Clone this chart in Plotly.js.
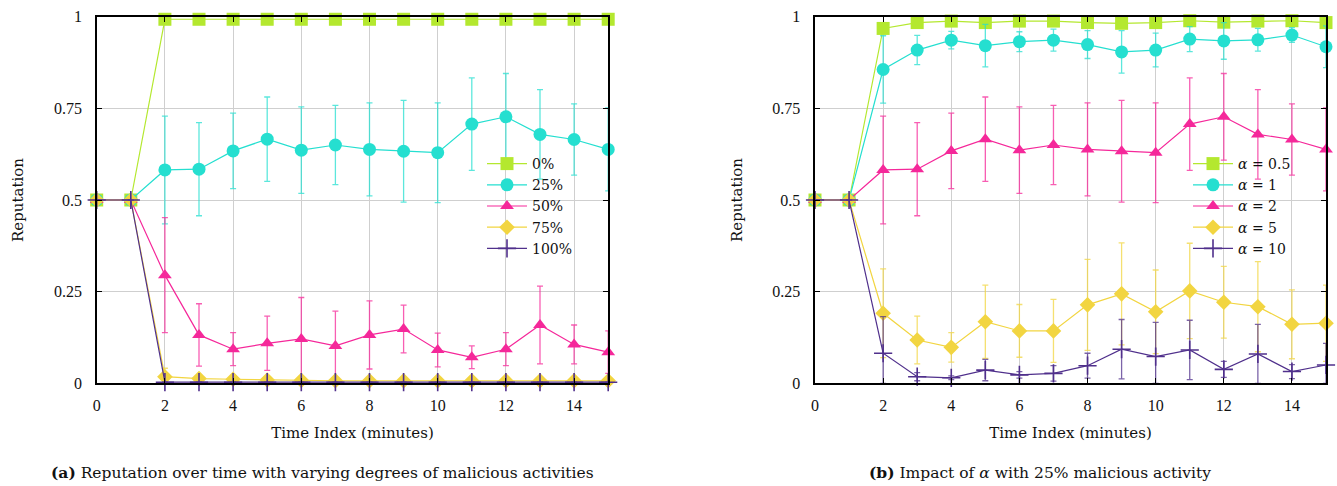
<!DOCTYPE html>
<html>
<head>
<meta charset="utf-8">
<script src="https://cdn.plot.ly/plotly-3.0.1.min.js"></script>
<style>html,body{margin:0;padding:0;background:#fff;}#chart{width:1337px;height:486px;}</style>
</head>
<body>
<div id="chart"></div>
<script>
// ---------- data ----------
const timeIndex = [0,1,2,3,4,5,6,7,8,9,10,11,12,13,14,15];
const xTickVals = [0,2,4,6,8,10,12,14];
const yTickVals = [0,0.25,0.5,0.75,1];
const yTickText = ['0','0.25','0.5','0.75','1'];

// (a) varying degrees of malicious activity
const namesA = ['0%','25%','50%','75%','100%'];
const rep0   = [0.5,0.5,0.993,0.993,0.993,0.993,0.993,0.993,0.993,0.993,0.993,0.993,0.993,0.993,0.993,0.993];
const err0   = [0,0,0,0,0,0,0,0,0,0,0,0,0,0,0,0];
const rep25  = [0.5,0.5,0.582,0.584,0.634,0.666,0.636,0.650,0.638,0.633,0.629,0.707,0.727,0.679,0.665,0.638];
const err25  = [0,0,0.147,0.127,0.103,0.115,0.118,0.108,0.127,0.139,0.136,0.126,0.118,0.122,0.097,0.113];
const rep50  = [0.5,0.5,0.295,0.132,0.093,0.109,0.121,0.102,0.132,0.148,0.091,0.071,0.093,0.159,0.106,0.085];
const err50  = [0,0,0.157,0.085,0.045,0.074,0.113,0.095,0.093,0.065,0.046,0.031,0.045,0.106,0.053,0.058];
const rep75  = [0.5,0.5,0.018,0.013,0.011,0.009,0.008,0.007,0.007,0.007,0.007,0.007,0.007,0.007,0.007,0.007];
const err75  = [0,0,0.023,0.006,0.005,0.004,0.004,0.003,0.003,0.003,0.003,0.003,0.003,0.003,0.003,0.003];
const rep100 = [0.5,0.5,0.003,0.003,0.003,0.003,0.003,0.003,0.003,0.003,0.003,0.003,0.003,0.003,0.003,0.003];
const err100 = [0,0,0,0,0,0,0,0,0,0,0,0,0,0,0,0];

// (b) impact of alpha with 25% malicious activity
const namesB = ['<i>α</i> = 0.5','<i>α</i> = 1','<i>α</i> = 2','<i>α</i> = 5','<i>α</i> = 10'];
const repA05 = [0.5,0.5,0.968,0.984,0.988,0.984,0.988,0.988,0.984,0.982,0.984,0.989,0.985,0.988,0.989,0.984];
const errA05 = [0,0,0.005,0.004,0.004,0.004,0.004,0.004,0.004,0.004,0.004,0.004,0.004,0.004,0.004,0.004];
const repA1  = [0.5,0.5,0.856,0.909,0.936,0.921,0.932,0.936,0.924,0.904,0.909,0.939,0.934,0.937,0.950,0.918];
const errA1  = [0,0,0.092,0.040,0.024,0.058,0.027,0.030,0.038,0.058,0.046,0.034,0.050,0.031,0.020,0.057];
const repA2  = [0.5,0.5,0.582,0.584,0.634,0.666,0.636,0.650,0.638,0.633,0.629,0.707,0.727,0.679,0.665,0.638];
const errA2  = [0,0,0.147,0.127,0.103,0.115,0.118,0.108,0.127,0.139,0.136,0.126,0.118,0.122,0.097,0.113];
const repA5  = [0.5,0.5,0.191,0.118,0.098,0.168,0.143,0.143,0.214,0.244,0.195,0.252,0.221,0.209,0.161,0.164];
const errA5  = [0,0,0.121,0.065,0.040,0.100,0.072,0.086,0.124,0.139,0.114,0.130,0.098,0.123,0.094,0.104];
const repA10 = [0.5,0.5,0.082,0.018,0.015,0.036,0.023,0.027,0.048,0.093,0.073,0.091,0.038,0.080,0.032,0.050];
const errA10 = [0,0,0.100,0.011,0.005,0.029,0.009,0.021,0.034,0.081,0.093,0.081,0.022,0.081,0.019,0.059];

const captionA = '<b>(a)</b> Reputation over time with varying degrees of malicious activities';
const captionB = '<b>(b)</b> Impact of <i>α</i> with 25% malicious activity';
const xTitle = 'Time Index (minutes)';
const yTitle = 'Reputation';

// ---------- styles ----------
const colors = ['#b4e82f','#25dfd0','#f5289a','#f2d541','#50308c'];
const errColors = ['rgba(180,232,47,0.75)','rgba(37,223,208,0.75)','rgba(245,40,154,0.75)','rgba(242,213,65,0.75)','rgba(80,48,140,0.75)'];
const symbols = ['square','circle','triangle-up','diamond','cross-thin-open'];
const sizes = [13,13,12,12,13];
const W = 1337, H = 486;
const px = v => v / W;
const py = v => (H - v) / H;

function makeTrace(i, y, err, name, xa, ya, leg) {
  const minus = y.map((v, k) => Math.min(err[k], v));
  return {
    x: timeIndex, y: y, name: name,
    type: 'scatter', mode: 'lines+markers',
    xaxis: xa, yaxis: ya, legend: leg,
    cliponaxis: false,
    line: {color: colors[i], width: 1.2},
    marker: {symbol: symbols[i], size: sizes[i], color: colors[i],
             line: {color: colors[i], width: i === 4 ? 1.6 : 0}},
    error_y: {type: 'data', symmetric: false, array: err, arrayminus: minus,
              color: errColors[i], thickness: 1.3, width: 3}
  };
}

const seriesA = [rep0, rep25, rep50, rep75, rep100];
const errsA = [err0, err25, err50, err75, err100];
const seriesB = [repA05, repA1, repA2, repA5, repA10];
const errsB = [errA05, errA1, errA2, errA5, errA10];

const data = [];
for (let i = 0; i < 5; i++) data.push(makeTrace(i, seriesA[i], errsA[i], namesA[i], 'x', 'y', 'legend'));
for (let i = 0; i < 5; i++) data.push(makeTrace(i, seriesB[i], errsB[i], namesB[i], 'x2', 'y2', 'legend2'));

const tickFont = {family: '"Liberation Serif", serif', size: 16, color: '#111'};
const textFont = {family: '"DejaVu Serif", serif', size: 15, color: '#111'};
const legendFont = {family: '"DejaVu Serif", serif', size: 14, color: '#111'};
const captionFont = {family: '"DejaVu Serif", serif', size: 15.5, color: '#111'};

function xAxis(domain, anchor) {
  return {
    domain: domain, anchor: anchor, range: [0, 15],
    tickvals: xTickVals, ticks: 'inside', ticklen: 5, tickcolor: '#000',
    showgrid: true, gridcolor: '#cfcfcf', gridwidth: 1, zeroline: false,
    showline: true, linecolor: '#000', linewidth: 1.6, mirror: 'ticks',
    tickfont: tickFont, ticklabelstandoff: 7, automargin: false,
    title: {text: xTitle, font: textFont, standoff: 14}
  };
}
function yAxis(domain, anchor) {
  return {
    domain: domain, anchor: anchor, range: [0, 1],
    tickvals: yTickVals, ticktext: yTickText, ticks: 'inside', ticklen: 5, tickcolor: '#000',
    showgrid: true, gridcolor: '#cfcfcf', gridwidth: 1, zeroline: false,
    showline: true, linecolor: '#000', linewidth: 1.6, mirror: 'ticks',
    tickfont: tickFont, ticklabelstandoff: 10, automargin: false,
    title: {text: yTitle, font: textFont, standoff: 26}
  };
}

const yDom = [py(383.3), py(16.7)];
const layout = {
  width: W, height: H,
  margin: {l: 0, r: 0, t: 0, b: 0},
  paper_bgcolor: '#fff', plot_bgcolor: '#fff',
  showlegend: true,
  xaxis: xAxis([px(96.7), px(608.2)], 'y'),
  yaxis: yAxis(yDom, 'x'),
  xaxis2: xAxis([px(815), px(1326)], 'y2'),
  yaxis2: yAxis(yDom, 'x2'),
  legend: {x: px(482), y: py(148), xanchor: 'left', yanchor: 'top',
           bgcolor: 'rgba(0,0,0,0)', font: legendFont, itemwidth: 40, tracegroupgap: 0},
  legend2: {x: px(1188), y: py(148), xanchor: 'left', yanchor: 'top',
            bgcolor: 'rgba(0,0,0,0)', font: legendFont, itemwidth: 40, tracegroupgap: 0},
  shapes: [
    {type: 'rect', xref: 'paper', yref: 'paper', x0: px(460), x1: px(597), y0: py(250), y1: py(153),
     fillcolor: '#fff', line: {width: 0}, layer: 'between'},
    {type: 'rect', xref: 'paper', yref: 'paper', x0: px(1157), x1: px(1314), y0: py(250), y1: py(153),
     fillcolor: '#fff', line: {width: 0}, layer: 'between'}
  ],
  annotations: [
    {text: captionA, xref: 'paper', yref: 'paper', x: px(322), y: py(472), xanchor: 'center', yanchor: 'middle',
     showarrow: false, font: captionFont},
    {text: captionB, xref: 'paper', yref: 'paper', x: px(1040), y: py(472), xanchor: 'center', yanchor: 'middle',
     showarrow: false, font: captionFont}
  ]
};

Plotly.newPlot('chart', data, layout, {displayModeBar: false, staticPlot: true});
</script>
</body>
</html>
